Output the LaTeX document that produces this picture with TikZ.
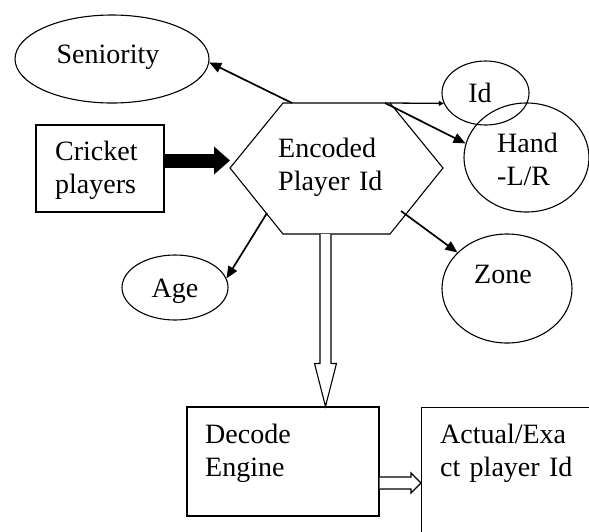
\documentclass[tikz,border=0pt]{standalone}
\usepackage{fontspec}
\setmainfont{Liberation Serif}
\usetikzlibrary{arrows.meta,shapes.geometric,calc}

\begin{document}
\begin{tikzpicture}[x=1pt,y=-1pt,
  lbl/.style={font=\fontsize{28}{33.5}\selectfont, inner sep=0pt},
  bubble/.style={draw, ellipse, inner sep=0pt, line width=1.1pt},
  boxnode/.style={draw, rectangle, inner sep=0pt, line width=1.1pt},
  link/.style={line width=1.7pt, -{Triangle[length=12pt,width=10pt]}},
  hollow/.style={draw, line width=1.1pt, fill=white, line join=miter}]
\useasboundingbox (0,0) rectangle (589,531);
\clip (0,0) rectangle (589,531);

% attribute bubbles
\node[bubble, minimum width=194pt, minimum height=88pt] (sen) at (112,59) {};
\node[lbl, anchor=base] (senT) at (108,63) {Seniority};

\node[bubble, minimum width=87pt, minimum height=64pt] (id) at (485.5,93) {};
\node[lbl, anchor=base] (idT) at (480,102) {Id};

\node[bubble, minimum width=125pt, minimum height=109pt] (hand) at (526.5,157.5) {};
\node[lbl, anchor=base west, align=left, text width=70pt] (handT) at (497,152) {Hand\\-L/R};

\node[bubble, minimum width=130pt, minimum height=109pt] (zone) at (507,288.5) {};
\node[lbl, anchor=base] (zoneT) at (503,283) {Zone};

\node[bubble, minimum width=106pt, minimum height=65pt] (age) at (175,287.5) {};
\node[lbl, anchor=base] (ageT) at (175,297) {Age};

% input box
\node[boxnode, minimum width=128pt, minimum height=87pt] (cp) at (100,168.5) {};
\node[lbl, anchor=base west, align=left, text width=100pt] (cpT) at (55,160) {Cricket\\players};

% encoded id hexagon
\coordinate (hL) at (230,168);
\coordinate (hTL) at (283,103);
\coordinate (hTR) at (390,103);
\coordinate (hR) at (443,168);
\coordinate (hBR) at (390,234);
\coordinate (hBL) at (283,234);
\draw[line width=1.1pt] (hL) -- (hTL) -- (hTR) -- (hR) -- (hBR) -- (hBL) -- cycle;
\node[lbl, anchor=base west, align=left, text width=110pt] (hexT) at (278,157) {Encoded\\Player Id};

% decoding boxes
\node[boxnode, minimum width=192pt, minimum height=109pt] (dec) at (283,461.5) {};
\node[lbl, anchor=base west, align=left, text width=150pt] (decT) at (205,443) {Decode\\Engine};

\node[boxnode, anchor=north west, minimum width=200pt, minimum height=150pt] (act) at (421,407) {};
\node[lbl, anchor=base west, align=left, text width=150pt] (actT) at (440,443) {Actual/Exa\\ct player Id};

% heavy input arrow
\draw[line width=14pt, -{Triangle[length=16pt,width=27pt]}]
  ([yshift=8pt]cp.east) -- ([yshift=8pt]cp.east -| hL);

% attribute arrows
\coordinate (sS) at (292,103);
\coordinate (hS) at (385,103);
\coordinate (zS) at (401,211);
\coordinate (aS) at (267,213);
\draw[link] (sS) -- (sen.-2);
\draw[line width=1.3pt, -{Triangle[length=5pt,width=5pt]}] (hTR) -- (id.194);
\draw[link] (hS) -- (hand.167);
\draw[link] (zS) -- (zone.144);
\draw[link] (aS) -- (age.10);

% hollow block arrows
\coordinate (dS) at (325.5,234);
\coordinate (dT) at (dS |- dec.north);
\draw[hollow] ($(dS)+(-5.5,0)$) -- ($(dT)+(-5.5,-43)$) -- ($(dT)+(-11,-43)$) -- (dT)
  -- ($(dT)+(11,-43)$) -- ($(dT)+(5.5,-43)$) -- ($(dS)+(5.5,0)$);

\coordinate (rS) at ($(dec.east)+(0,21.5)$);
\coordinate (rT) at (rS -| act.west);
\draw[hollow] ($(rS)+(0,-6)$) -- ($(rT)+(-10,-6)$) -- ($(rT)+(-10,-10)$) -- (rT)
  -- ($(rT)+(-10,10)$) -- ($(rT)+(-10,6)$) -- ($(rS)+(0,6)$);
\end{tikzpicture}
\end{document}
